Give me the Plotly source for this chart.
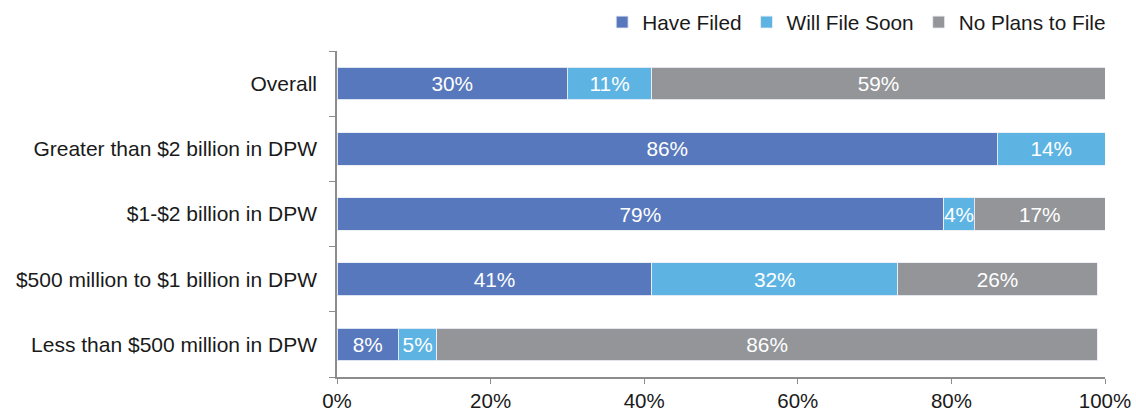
import plotly.graph_objects as go

categories = [
    "Overall",
    "Greater than $2 billion in DPW",
    "$1-$2 billion in DPW",
    "$500 million to $1 billion in DPW",
    "Less than $500 million in DPW",
]
have_filed = [30, 86, 79, 41, 8]
will_file_soon = [11, 14, 4, 32, 5]
no_plans = [59, 0, 17, 26, 86]
x_ticks = [0, 20, 40, 60, 80, 100]
x_tick_labels = ["0%", "20%", "40%", "60%", "80%", "100%"]

series = [
    ("Have Filed", have_filed, "#5878BD"),
    ("Will File Soon", will_file_soon, "#5DB4E3"),
    ("No Plans to File", no_plans, "#939598"),
]

FONT = "Liberation Sans, Arial, sans-serif"
FS = 20.8

fig = go.Figure()
for name, vals, color in series:
    texts = [f"{v}%" if v > 0 else "" for v in vals]
    fig.add_trace(go.Bar(
        name=name,
        y=categories,
        x=vals,
        orientation="h",
        marker=dict(color=color, line=dict(color="rgba(235,238,245,0.9)", width=1)),
        text=texts,
        texttemplate="%{text}",
        textposition="inside",
        insidetextanchor="middle",
        textangle=0,
        textfont=dict(color="white", size=FS, family=FONT),
        hoverinfo="skip",
    ))

fig.update_layout(
    barmode="stack",
    bargap=0.5,
    width=1136,
    height=413,
    margin=dict(l=337, r=31, t=51, b=36),
    paper_bgcolor="white",
    plot_bgcolor="white",
    font=dict(family=FONT, size=FS, color="#1a1a1a"),
    uniformtext=dict(minsize=FS, mode="show"),
    legend=dict(
        orientation="h",
        x=1.008,
        xanchor="right",
        y=0.995,
        yanchor="top",
        yref="container",
        font=dict(size=FS, family=FONT, color="#1a1a1a"),
        itemwidth=30,
        traceorder="normal",
        bgcolor="rgba(0,0,0,0)",
    ),
    xaxis=dict(
        range=[0, 100],
        tickvals=x_ticks,
        ticktext=x_tick_labels,
        showgrid=False,
        zeroline=False,
        showline=True,
        linecolor="#8c8c8c",
        linewidth=1.5,
        ticks="outside",
        ticklen=5,
        tickcolor="#8c8c8c",
        automargin=False,
        tickfont=dict(size=20.5, family=FONT, color="#1a1a1a"),
    ),
    yaxis=dict(
        categoryorder="array",
        categoryarray=categories[::-1],
        showgrid=False,
        showline=True,
        linecolor="#8c8c8c",
        linewidth=1.5,
        ticks="outside",
        tickson="boundaries",
        ticklen=6,
        tickcolor="#8c8c8c",
        ticklabelstandoff=14,
        automargin=False,
        tickfont=dict(size=21.0, family=FONT, color="#1a1a1a"),
    ),
)

fig.write_html("out.html")
